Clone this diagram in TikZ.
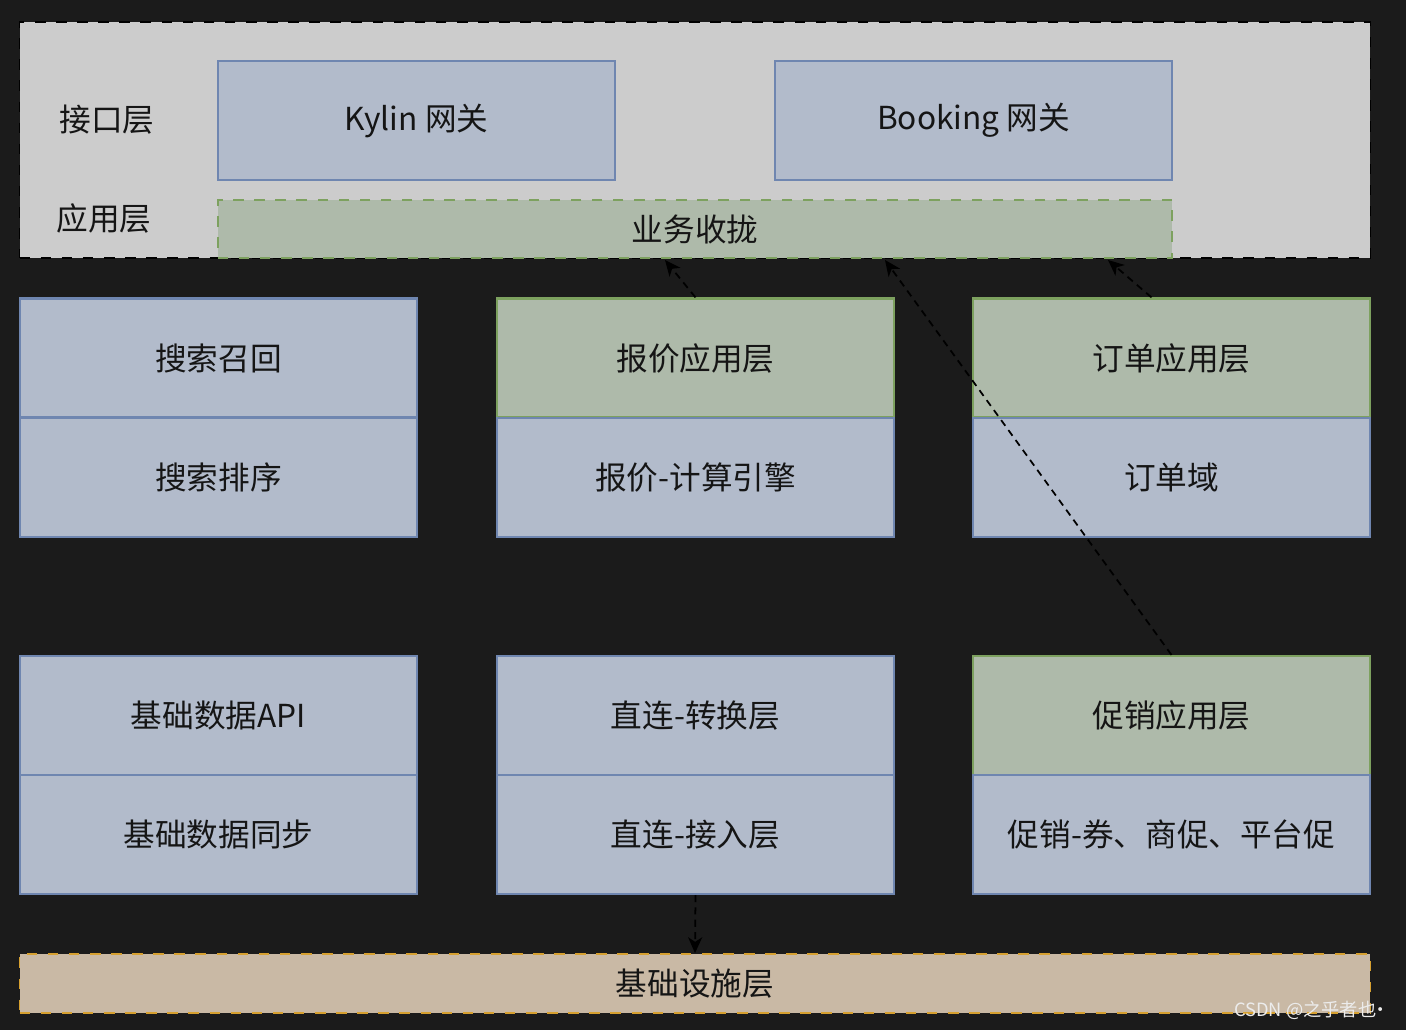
\documentclass[tikz,border=0pt]{standalone}
\usepackage{fontspec}
\newfontfamily\cjk{Noto Sans CJK SC}
\usetikzlibrary{arrows.meta}

\definecolor{bgdark}{HTML}{1B1B1B}
\definecolor{laygray}{HTML}{CCCCCC}
\definecolor{bluefill}{HTML}{B2BBCB}
\definecolor{blueline}{HTML}{6F86B0}
\definecolor{greenfill}{HTML}{AEBAAA}
\definecolor{greenline}{HTML}{7DA15F}
\definecolor{sandfill}{HTML}{C9B9A5}
\definecolor{sandline}{HTML}{D6A030}
\definecolor{inktext}{HTML}{151515}

\tikzset{
  every node/.style={font=\cjk\fontsize{9}{11}\selectfont, text=inktext},
  boxbase/.style={rectangle, inner sep=0pt, minimum width=3.97cm, minimum height=1.19cm, line width=0.6pt},
  bluebox/.style={boxbase, draw=blueline, fill=bluefill},
  greenbox/.style={boxbase, draw=greenline, fill=greenfill},
  flowarrow/.style={-{Stealth[length=4.5pt,width=4pt,inset=1.3pt]}, line width=0.5pt, dash pattern=on 2pt off 1.5pt, draw=black}
}

\begin{document}
\begin{tikzpicture}[x=0.01cm,y=-0.01cm]
\fill[bgdark] (0,0) rectangle (1406,1030);
\useasboundingbox (0,0) rectangle (1406,1030);

% top layer
\node[rectangle, draw=black, fill=laygray, dashed, line width=0.5pt, minimum width=13.5cm, minimum height=2.36cm] (toplay) at (695,140) {};
\node (jkc) at (107,120) {接口层};
\node (yyc) at (104,218) {应用层};
\node[bluebox] (kylin) at (416.5,120.5) {Kylin 网关};
\node[bluebox] (booking) at (973.5,120.5) {Booking 网关};
\node[rectangle, draw=greenline, fill=greenfill, dashed, line width=0.5pt, minimum width=9.54cm, minimum height=0.58cm] (ywsl) at (695,229) {业务收拢};

% middle row
\node[bluebox] (sszh) at (218.5,358) {搜索召回};
\node[bluebox] (sspx) at (218.5,477.5) {搜索排序};
\node[greenbox] (bjyy) at (695.5,358) {报价应用层};
\node[bluebox] (bjjs) at (695.5,477.5) {报价-计算引擎};
\node[greenbox] (ddyy) at (1171.5,358) {订单应用层};
\node[bluebox] (ddy) at (1171.5,477.5) {订单域};

% lower row
\node[bluebox] (jcapi) at (218.5,715.5) {基础数据API};
\node[bluebox] (jctb) at (218.5,834.5) {基础数据同步};
\node[bluebox] (zlzh) at (695.5,715.5) {直连-转换层};
\node[bluebox] (zljr) at (695.5,834.5) {直连-接入层};
\node[greenbox] (cxyy) at (1171.5,715.5) {促销应用层};
\node[bluebox] (cxq) at (1171.5,834.5) {促销-券、商促、平台促};

% base
\node[rectangle, draw=sandline, fill=sandfill, dashed, line width=0.5pt, minimum width=13.5cm, minimum height=0.59cm] (jcss) at (695,983.5) {基础设施层};

\coordinate (in1) at (665,260);
\coordinate (in2) at (885,260);
\coordinate (in3) at (1108,260);
\draw[flowarrow] (bjyy.north) -- (in1);
\draw[flowarrow] (cxyy.north) -- (in2);
\draw[flowarrow] ([xshift=-0.2cm]ddyy.north) -- (in3);
\draw[flowarrow] (zljr.south) -- (jcss.north);

\node[text=white!85!gray, font=\cjk\fontsize{5.2}{6}\selectfont, anchor=east, inner sep=0pt] (mark) at (1390,1010) {CSDN @之乎者也\kern-0.3em·};
\end{tikzpicture}
\end{document}
